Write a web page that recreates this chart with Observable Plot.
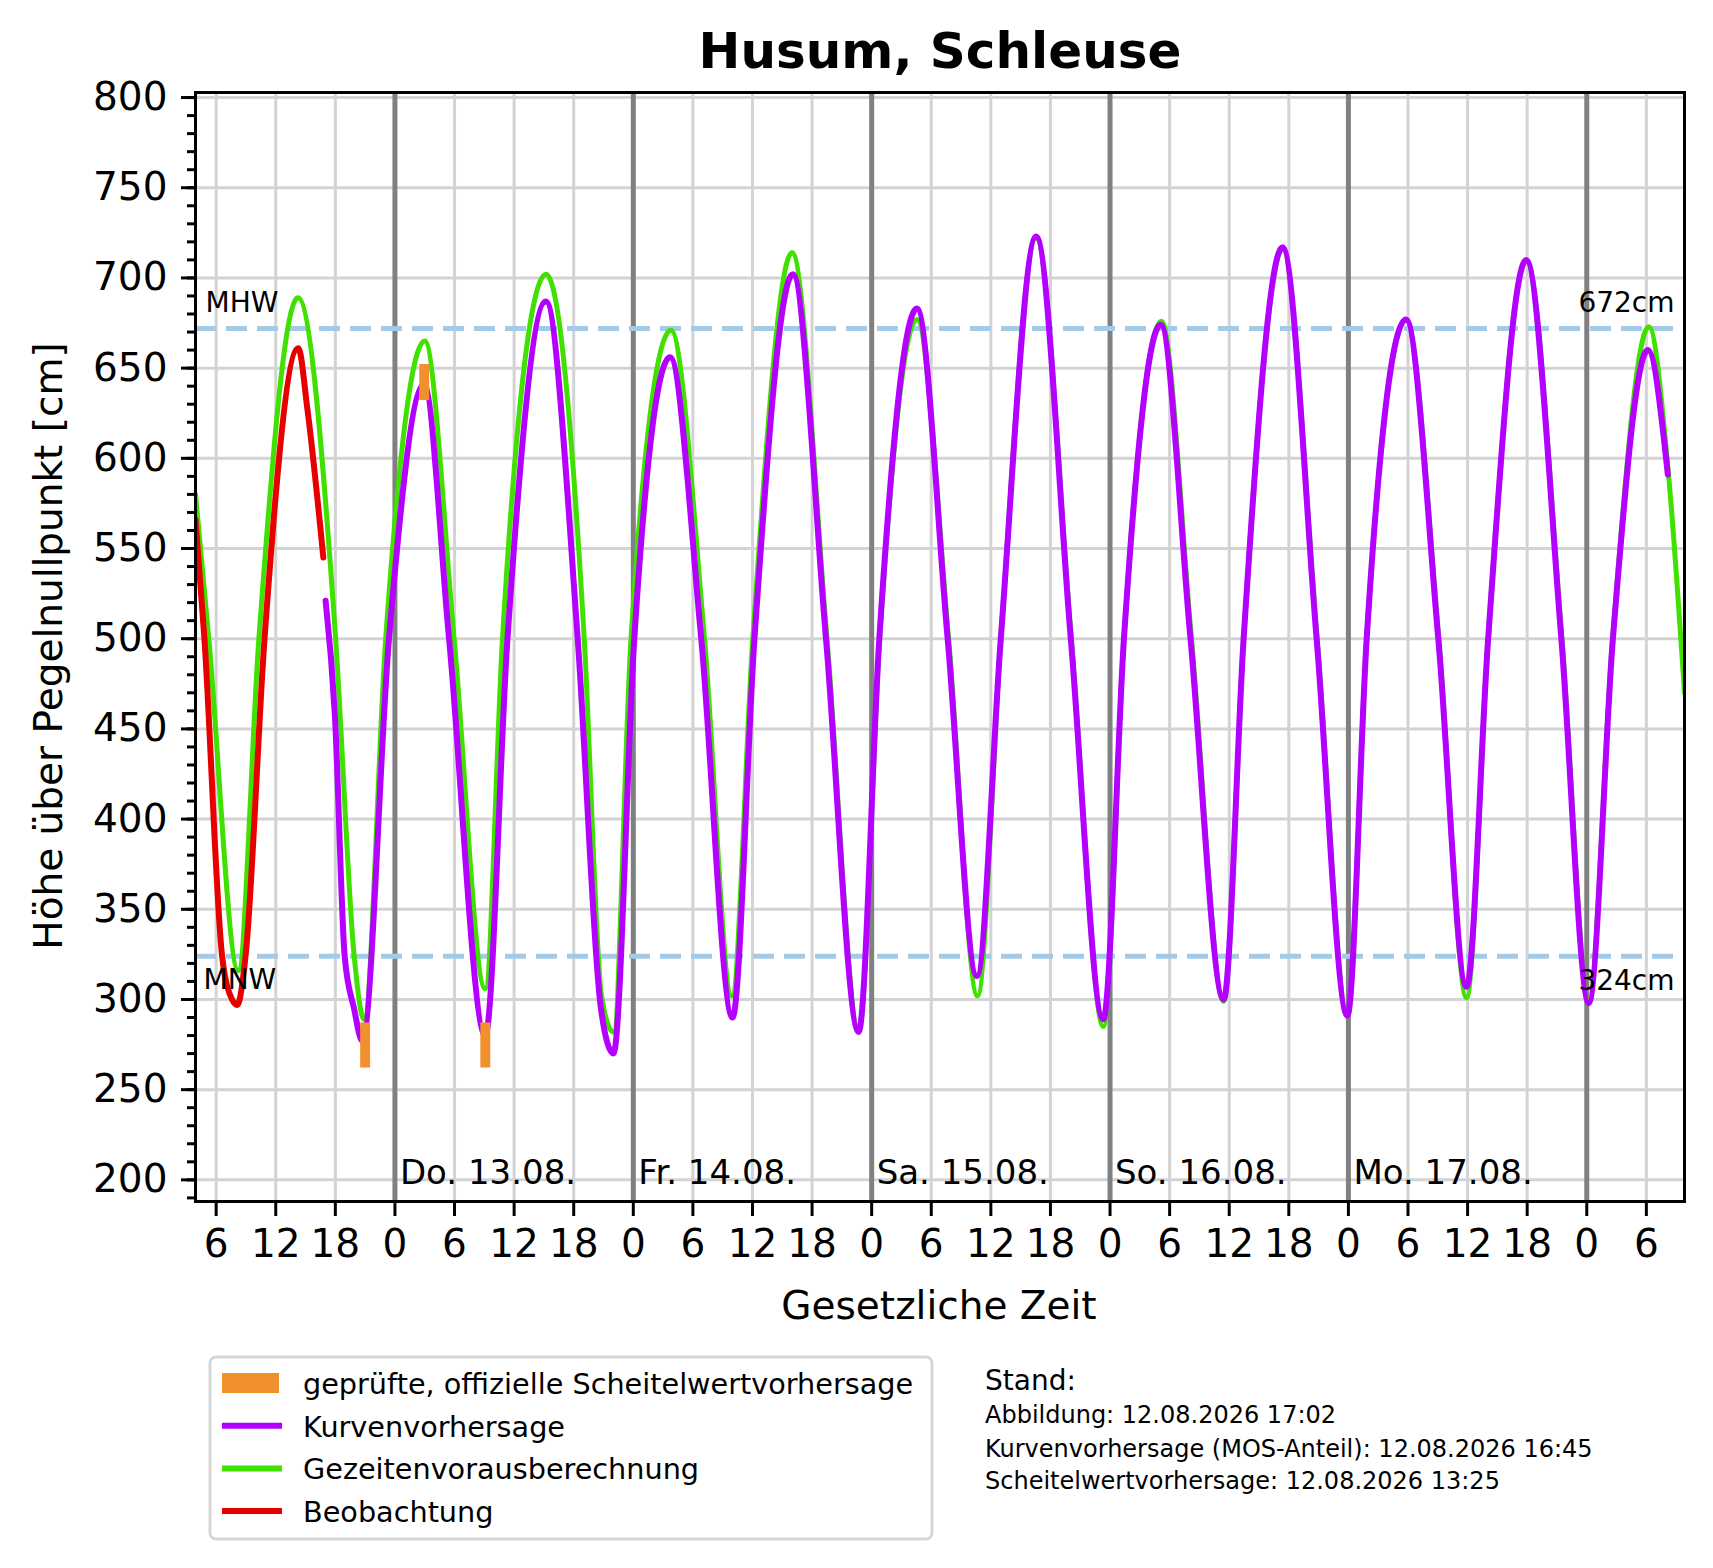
<!DOCTYPE html>
<html>
<head>
<meta charset="utf-8">
<script src="https://cdn.jsdelivr.net/npm/d3@7"></script>
<script src="https://cdn.jsdelivr.net/npm/@observablehq/plot@0.6"></script>
<style>
  html, body { margin: 0; padding: 0; background: white; }
  #wrap { position: relative; width: 1713px; height: 1568px; font-family: "DejaVu Sans", sans-serif; }
  #wrap > svg { position: absolute; left: 0; top: 0; }
</style>
</head>
<body>
<div id="wrap"></div>
<script>
// ---- data (hours since 12.08. 00:00, cm above gauge zero) ----
const gezeitenT = [3.92, 5.26, 8.22, 10.3, 14.23, 18.03, 19.9, 20.89, 23.07, 27.0, 29.96, 33.08, 34.83, 39.23, 43.06, 44.8, 45.99, 47.77, 51.8, 55.17, 57.92, 60.03, 63.99, 67.5, 70.7, 72.8, 76.56, 79.75, 82.66, 85.0, 88.56, 92.1, 95.33, 97.4, 101.17, 104.2, 107.44, 109.45, 113.37, 116.85, 119.9, 121.84, 125.8, 129.1, 131.9, 134.07, 137.9, 141.5, 144.2, 146.6, 150.25, 152.2, 153.84];
const gezeitenV = [580, 500, 316, 500, 689, 500, 324, 289, 500, 665, 500, 306, 500, 702, 500, 302, 282, 500, 671, 500, 302, 500, 714, 500, 283, 500, 677, 500, 302, 500, 722, 500, 285, 500, 676, 500, 299, 500, 716, 500, 291, 500, 677, 500, 301, 500, 710, 500, 300, 500, 673, 593, 470];

const kurveT = [17.02, 17.96, 18.94, 19.88, 20.72, 23.4, 26.93, 29.45, 33.1, 35.33, 39.2, 42.4, 44.74, 46.0, 48.1, 51.7, 54.84, 57.99, 60.2, 64.06, 67.4, 70.69, 72.77, 76.56, 79.65, 82.6, 85.0, 88.56, 92.05, 95.33, 97.4, 101.1, 104.1, 107.44, 109.45, 113.37, 116.8, 119.9, 121.84, 125.8, 129.05, 131.9, 134.07, 137.9, 141.44, 144.2, 146.63, 150.15, 152.16];
const kurveV = [521, 457, 324, 295, 277, 500, 641, 500, 280, 500, 687, 500, 295, 270, 500, 656, 500, 290, 500, 702, 500, 282, 500, 683, 500, 313, 500, 723, 500, 289, 500, 674, 500, 300, 500, 717, 500, 291, 500, 677, 500, 307, 500, 710, 500, 298, 500, 660, 591];

const beobT = [3.92, 4.82, 6.6, 7.6, 8.12, 8.96, 10.87, 14.27, 15.17, 16.79];
const beobV = [566, 500, 324, 300, 297, 324, 500, 661, 628, 545];

const scheitelT = [21.05, 27.0, 33.15];
const scheitelLo = [262, 632, 262];
const scheitelHi = [287, 652, 287];

const dayStarts = [24, 48, 72, 96, 120, 144];
const dayLabels = ["Do. 13.08.", "Fr. 14.08.", "Sa. 15.08.", "So. 16.08.", "Mo. 17.08.", ""];

const levelNames = ["MHW", "MNW"];
const levelValues = [672, 324];
const levelLabels = ["672cm", "324cm"];

const xTicks = [6, 12, 18, 24, 30, 36, 42, 48, 54, 60, 66, 72, 78, 84, 90, 96, 102, 108, 114, 120, 126, 132, 138, 144, 150];
const yTicks = [200, 250, 300, 350, 400, 450, 500, 550, 600, 650, 700, 750, 800];
const yMinor = d3.range(190, 801, 10);

// ---- build tables ----
const gezeiten = gezeitenT.map((t, i) => ({t, v: gezeitenV[i]}));
const kurve = kurveT.map((t, i) => ({t, v: kurveV[i]}));
const beob = beobT.map((t, i) => ({t, v: beobV[i]}));
const scheitel = scheitelT.map((t, i) => ({t1: t - 0.5, t2: t + 0.5, lo: scheitelLo[i], hi: scheitelHi[i]}));
const days = dayStarts.map((t, i) => ({t, label: dayLabels[i]}));
const levels = levelValues.map((v, i) => ({v, name: levelNames[i], label: levelLabels[i]}));

const C = {
  purple: "#b400ff", green: "#40e000", red: "#e60000", orange: "#f29030",
  dash: "#a3cbe8", grid: "#d3d3d3", day: "#808080"
};

const chart = Plot.plot({
  width: 1713,
  height: 1340,
  marginLeft: 195,
  marginRight: 29,
  marginTop: 92,
  marginBottom: 139,
  x: {domain: [3.92, 153.84]},
  y: {domain: [188, 802.8]},
  style: {fontFamily: "DejaVu Sans", fontSize: "39px", background: "transparent", overflow: "visible", color: "black"},
  marks: [
    Plot.gridX({ticks: xTicks, stroke: C.grid, strokeOpacity: 1, strokeWidth: 3}),
    Plot.gridY({ticks: yTicks, stroke: C.grid, strokeOpacity: 1, strokeWidth: 3}),
    Plot.ruleX(days, {x: "t", stroke: C.day, strokeWidth: 5}),
    Plot.ruleY(levels, {y: "v", stroke: C.dash, strokeWidth: 5, strokeDasharray: "21,10"}),
    Plot.line(gezeiten, {x: "t", y: "v", curve: "monotone-x", stroke: C.green, strokeWidth: 5, clip: true}),
    Plot.line(kurve, {x: "t", y: "v", curve: "monotone-x", stroke: C.purple, strokeWidth: 6, clip: true}),
    Plot.line(beob, {x: "t", y: "v", curve: "monotone-x", stroke: C.red, strokeWidth: 6, clip: true}),
    Plot.rect(scheitel, {x1: "t1", x2: "t2", y1: "lo", y2: "hi", fill: C.orange}),
    Plot.text(days, {x: "t", text: "label", frameAnchor: "bottom", textAnchor: "start", lineAnchor: "bottom", dx: 5, dy: -18, fontSize: 34}),
    Plot.text(levels.filter(d => d.name === "MHW"), {y: "v", text: "name", frameAnchor: "left", textAnchor: "start", lineAnchor: "bottom", dx: 10, dy: -16, fontSize: 28}),
    Plot.text(levels.filter(d => d.name === "MHW"), {y: "v", text: "label", frameAnchor: "right", textAnchor: "end", lineAnchor: "bottom", dx: -10, dy: -16, fontSize: 28}),
    Plot.text(levels.filter(d => d.name === "MNW"), {y: "v", text: "name", frameAnchor: "left", textAnchor: "start", lineAnchor: "bottom", dx: 8, dy: 33, fontSize: 28}),
    Plot.text(levels.filter(d => d.name === "MNW"), {y: "v", text: "label", frameAnchor: "right", textAnchor: "end", lineAnchor: "bottom", dx: -10, dy: 34, fontSize: 28}),
    Plot.frame({stroke: "black", strokeWidth: 3}),
    Plot.axisY({ticks: yMinor, tickSize: 8, strokeWidth: 3, tickFormat: () => "", label: null}),
    Plot.axisY({ticks: yTicks, tickSize: 14, tickPadding: 14, strokeWidth: 3, label: null, fontSize: 39}),
    Plot.axisX({ticks: xTicks, tickSize: 15, tickPadding: 13, strokeWidth: 3, label: null, fontSize: 39, tickFormat: d => String(d % 24)})
  ]
});
document.getElementById("wrap").appendChild(chart);

// ---- title, axis labels, legend, Stand (overlay) ----
const ov = d3.select("#wrap").append("svg")
  .attr("width", 1713).attr("height", 1568)
  .style("font-family", "DejaVu Sans");

ov.append("text").attr("x", 940).attr("y", 68).attr("text-anchor", "middle")
  .attr("font-size", 50).attr("font-weight", "bold").text("Husum, Schleuse");
ov.append("text").attr("x", 939).attr("y", 1319).attr("text-anchor", "middle")
  .attr("font-size", 39).text("Gesetzliche Zeit");
ov.append("text").attr("transform", "translate(62,646) rotate(-90)").attr("text-anchor", "middle")
  .attr("font-size", 39).text("Höhe über Pegelnullpunkt [cm]");

const legendItems = [
  {label: "geprüfte, offizielle Scheitelwertvorhersage", color: C.orange, kind: "patch"},
  {label: "Kurvenvorhersage", color: C.purple, kind: "line"},
  {label: "Gezeitenvorausberechnung", color: C.green, kind: "line"},
  {label: "Beobachtung", color: C.red, kind: "line"}
];
ov.append("rect").attr("x", 210).attr("y", 1357).attr("width", 722).attr("height", 182)
  .attr("rx", 6).attr("fill", "white").attr("stroke", "#d6d6d6").attr("stroke-width", 3);
legendItems.forEach((d, i) => {
  const base = 1394 + i * 42.7;
  if (d.kind === "patch") {
    ov.append("rect").attr("x", 222).attr("y", base - 21).attr("width", 57).attr("height", 20).attr("fill", d.color);
  } else {
    ov.append("line").attr("x1", 222).attr("x2", 282).attr("y1", base - 11).attr("y2", base - 11)
      .attr("stroke", d.color).attr("stroke-width", 6);
  }
  ov.append("text").attr("x", 303).attr("y", base).attr("font-size", 28.7).text(d.label);
});

const standLines = [
  "Abbildung: 12.08.2026 17:02",
  "Kurvenvorhersage (MOS-Anteil): 12.08.2026 16:45",
  "Scheitelwertvorhersage: 12.08.2026 13:25"
];
ov.append("text").attr("x", 985).attr("y", 1390).attr("font-size", 28).text("Stand:");
standLines.forEach((s, i) => {
  ov.append("text").attr("x", 985).attr("y", [1423, 1457, 1489][i]).attr("font-size", 24).text(s);
});
</script>
</body>
</html>
